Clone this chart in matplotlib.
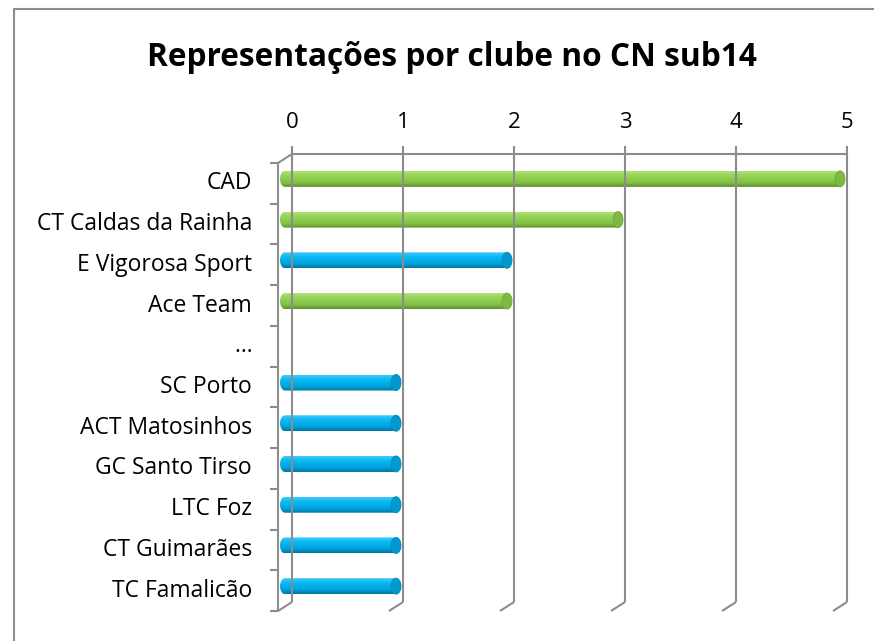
import numpy as np
import matplotlib
matplotlib.use("Agg")
import matplotlib.pyplot as plt
from matplotlib.path import Path
from matplotlib.patches import PathPatch, Ellipse
from matplotlib.colors import LinearSegmentedColormap

# ---- data ----
categories = ["CAD", "CT Caldas da Rainha", "E Vigorosa Sport", "Ace Team", "…",
              "SC Porto", "ACT Matosinhos", "GC Santo Tirso", "LTC Foz",
              "CT Guimarães", "TC Famalicão"]
values = [5, 3, 2, 2, 0, 1, 1, 1, 1, 1, 1]
groups = ["green", "green", "blue", "green", "none", "blue", "blue", "blue", "blue", "blue", "blue"]
x_ticks = [0, 1, 2, 3, 4, 5]
title = "Representações por clube no CN sub14"

# ---- layout (pixel geometry) ----
W, H, DPI = 874, 641, 100
X0, SX = 278.0, 111.0      # front plane x origin and px per unit
Y0, SY = 163.0, 40.73      # front plane top and px per category
DXB, DYB = 14 / SX, -9.0 / SY   # depth offset of back wall (data units)
n = len(categories)

fig = plt.figure(figsize=(W / DPI, H / DPI), dpi=DPI)
ax = fig.add_axes([0, 0, 1, 1])
xlim = (-X0 / SX, (W - X0) / SX)
ylim = ((H - Y0) / SY, -Y0 / SY)
ax.axis("off")

def px(x):  # pixel -> data x
    return (x - X0) / SX
def py(y):
    return (y - Y0) / SY

gray = "#8c8c8c"
lw = 1.5
font = "Open Sans"

# outer chart border (left and top visible)
ax.plot([px(14), px(14), px(W + 5)], [py(H + 5), py(9), py(9)], color=gray, lw=1.5,
        clip_on=False, solid_capstyle="butt")

# back wall gridlines + top ticks + floor diagonals
xmax = x_ticks[-1]
for t in x_ticks:
    ax.plot([t + DXB, t + DXB], [DYB - 8 / SY, n + DYB], color=gray, lw=lw, solid_capstyle="butt")
    ax.plot([t + DXB, t], [n + DYB, n], color=gray, lw=lw, solid_capstyle="butt")
    ax.text(t + DXB, py(122), str(t), ha="center", va="center", fontsize=16, family=font, color="black")
# top edge of back wall
ax.plot([DXB, xmax + DXB], [DYB, DYB], color=gray, lw=lw, solid_capstyle="butt")
# side wall top diagonal
ax.plot([0, DXB], [0, DYB], color=gray, lw=lw, solid_capstyle="butt")
# left (category) axis with ticks
ax.plot([0, 0], [0, n], color=gray, lw=lw, solid_capstyle="butt")
for k in range(n + 1):
    ax.plot([-8 / SX, 0], [k, k], color=gray, lw=lw, solid_capstyle="butt")

# category labels
for i, c in enumerate(categories):
    ax.text(px(252), i + 0.5, c, ha="right", va="center", fontsize=16.5, family=font, color="black")

# title
ax.text(px(452), py(57), title, ha="center", va="center", fontsize=22.8, fontweight="bold",
        family=font, color="black")

# cylinder bars
palettes = {
    "green": ["#aee274", "#97d55a", "#8ccc4c", "#7fbf42", "#5d8c2f"],
    "blue": ["#40ccff", "#12baf2", "#00b0ec", "#00a0d8", "#00759f"],
}
caps = {"green": "#7fb944", "blue": "#0399cf"}
cap_edge = {"green": "#74a83e", "blue": "#058cbd"}
bh = 16 / SY
a = 5 / SX
xoff = DXB / 2
yoff = DYB / 2
for i, (v, g) in enumerate(zip(values, groups)):
    if v <= 0 or g == "none":
        continue
    x0 = xoff
    x1 = xoff + v
    yc = i + 0.5 + yoff
    top, bot = yc - bh / 2, yc + bh / 2
    th = np.linspace(np.pi / 2, 3 * np.pi / 2, 20)
    left = np.column_stack([x0 + a * np.cos(th), yc - (bh / 2) * np.sin(th)])
    th2 = np.linspace(-np.pi / 2, np.pi / 2, 20)
    right = np.column_stack([x1 + a * np.cos(th2), yc - (bh / 2) * np.sin(th2)])
    verts = np.vstack([left, right, left[:1]])
    patch = PathPatch(Path(verts), facecolor="none", edgecolor="none")
    ax.add_patch(patch)
    cmap = LinearSegmentedColormap.from_list("c", palettes[g])
    grad = np.linspace(0, 1, 64).reshape(-1, 1)
    im = ax.imshow(grad, cmap=cmap, aspect="auto", extent=[x0 - a, x1 + a, bot, top],
                   interpolation="bilinear", origin="upper")
    im.set_clip_path(patch)
    ax.add_patch(Ellipse((x1, yc), 2 * a, bh, facecolor=caps[g], edgecolor=cap_edge[g], lw=0.6))

ax.set_xlim(*xlim)
ax.set_ylim(*ylim)
fig.savefig("out.png", dpi=DPI)
